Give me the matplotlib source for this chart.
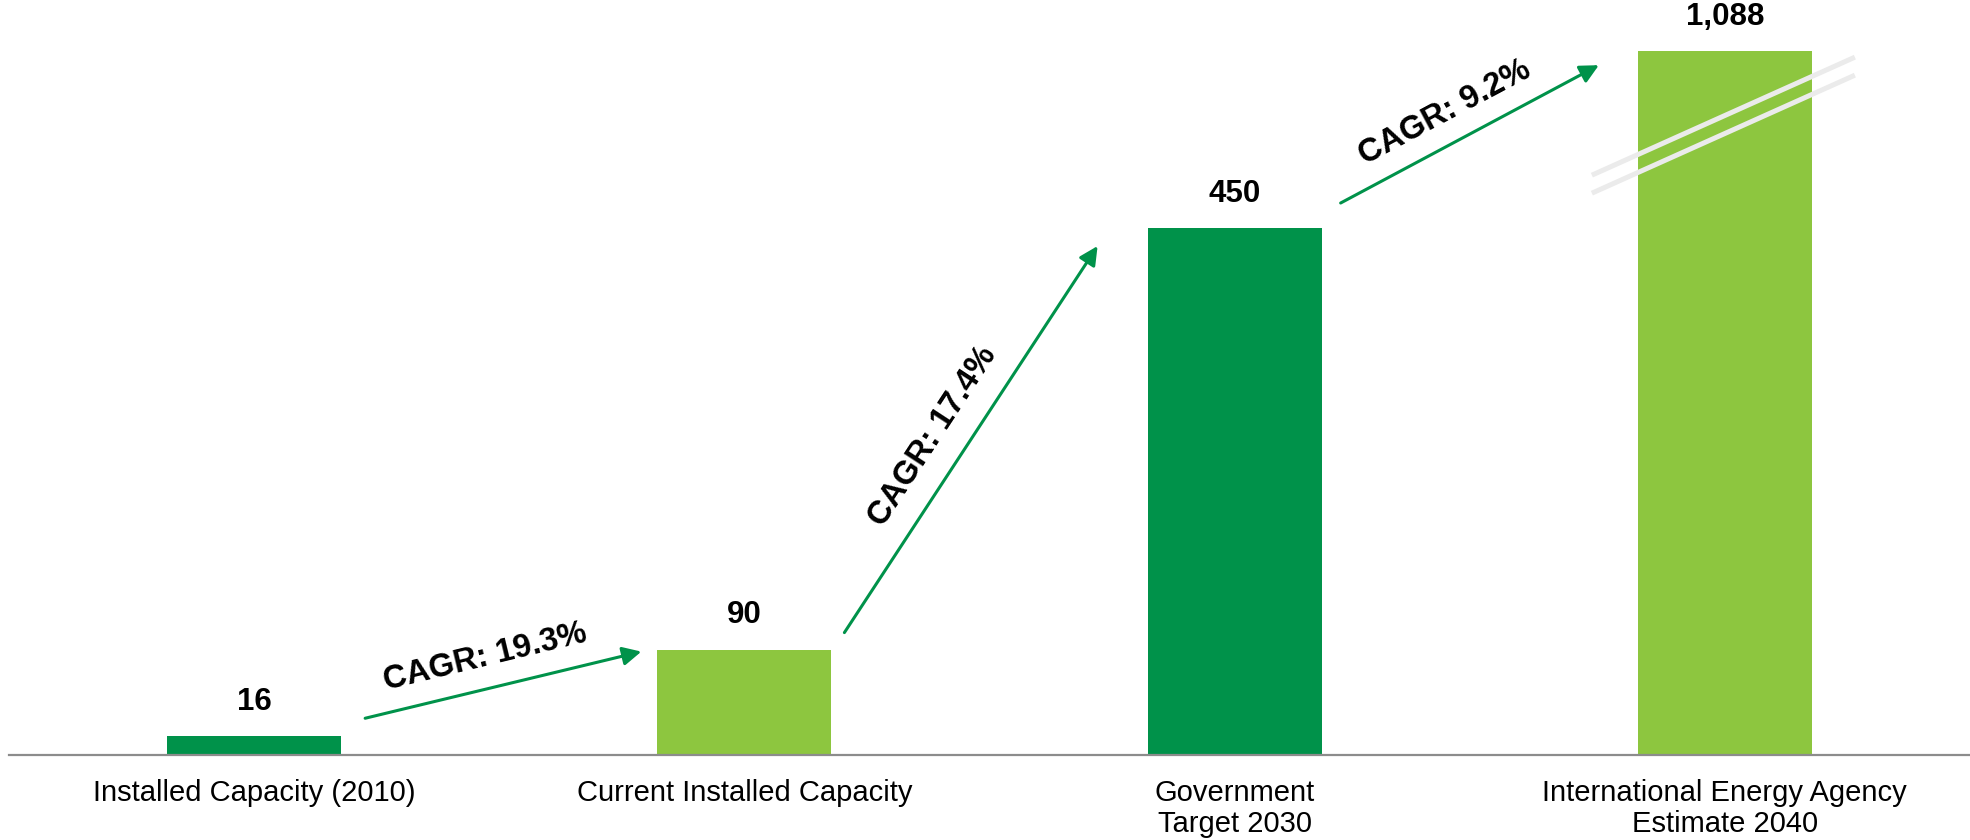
import numpy as np
import matplotlib
matplotlib.use("Agg")
import matplotlib.pyplot as plt
from matplotlib.lines import Line2D

plt.rcParams['font.family'] = ['Liberation Sans', 'DejaVu Sans']

# ---- data ----
categories = ["Installed Capacity (2010)", "Current Installed Capacity",
              "Government\nTarget 2030", "International Energy Agency\nEstimate 2040"]
values = [16, 90, 450, 1088]
cagr = [19.3, 17.4, 9.2]
colors = ["#00924A", "#8DC63F", "#00924A", "#8DC63F"]
display_cap = 601          # bar above this is drawn broken
arrow_color = "#00924A"

W, H = 1970, 840
fig = plt.figure(figsize=(W / 100, H / 100), dpi=100)
ax = fig.add_axes([9 / W, 85 / H, 1 - 9 / W, 755 / H])

x = np.arange(len(values))
heights = [min(v, display_cap) for v in values]
bw = 0.355
ax.bar(x, heights, width=bw, color=colors, zorder=2)
ax.set_xlim(-0.5, 3.5)
ax.set_ylim(0, 644.7)

for s in ["left", "right", "top"]:
    ax.spines[s].set_visible(False)
ax.spines["bottom"].set_color("#8c8c8c")
ax.spines["bottom"].set_linewidth(1.6)
ax.set_yticks([])
ax.set_xticks(x, categories, fontsize=21, linespacing=1.15)
ax.tick_params(axis="x", length=0, pad=17)

# value labels
for xi, h, v in zip(x, heights, values):
    ax.annotate(f"{v:,}", xy=(xi, h), xytext=(0, 14), textcoords="offset points",
                ha="center", va="bottom", fontsize=22.5, fontweight="bold")

# CAGR arrows (pixel offsets relative to bar corners)
start_off = [(24, 18), (13, 17), (19, 25)]
end_off = [(-16, -2), (-50, -18), (-39, -14)]
T = ax.transData
for i, c in enumerate(cagr):
    p0 = T.transform((x[i] + bw / 2, heights[i])) + np.array(start_off[i])
    p1 = T.transform((x[i + 1] - bw / 2, heights[i + 1])) + np.array(end_off[i])
    ax.annotate("", xy=tuple(p1), xytext=tuple(p0), xycoords="figure pixels",
                textcoords="figure pixels",
                arrowprops=dict(arrowstyle="-|>", color=arrow_color, lw=2.2,
                                mutation_scale=28, shrinkA=0, shrinkB=0))
    d = p1 - p0
    ang = np.degrees(np.arctan2(d[1], d[0]))
    nrm = np.array([-d[1], d[0]]) / np.hypot(*d)
    off = 31 if i != 1 else 34
    pc = p0 + 0.46 * d + off * nrm
    fig.text(pc[0] / W, pc[1] / H, f"CAGR: {c}%", rotation=ang, rotation_mode="anchor",
             ha="center", va="center", fontsize=23.5, fontweight="bold")

# break marks on the capped bar
for xi, v, h in zip(x, values, heights):
    if v > h:
        top = T.transform((xi, h))
        for dy in (0, -18):
            xs = np.array([top[0] - 133, top[0] + 130])
            ys = np.array([top[1] - 124 + dy, top[1] - 6 + dy])
            fig.add_artist(Line2D(xs / W, ys / H, transform=fig.transFigure,
                                  color="#ebebeb", lw=3.6, solid_capstyle="butt", zorder=5))

fig.savefig("out.png", dpi=100)
